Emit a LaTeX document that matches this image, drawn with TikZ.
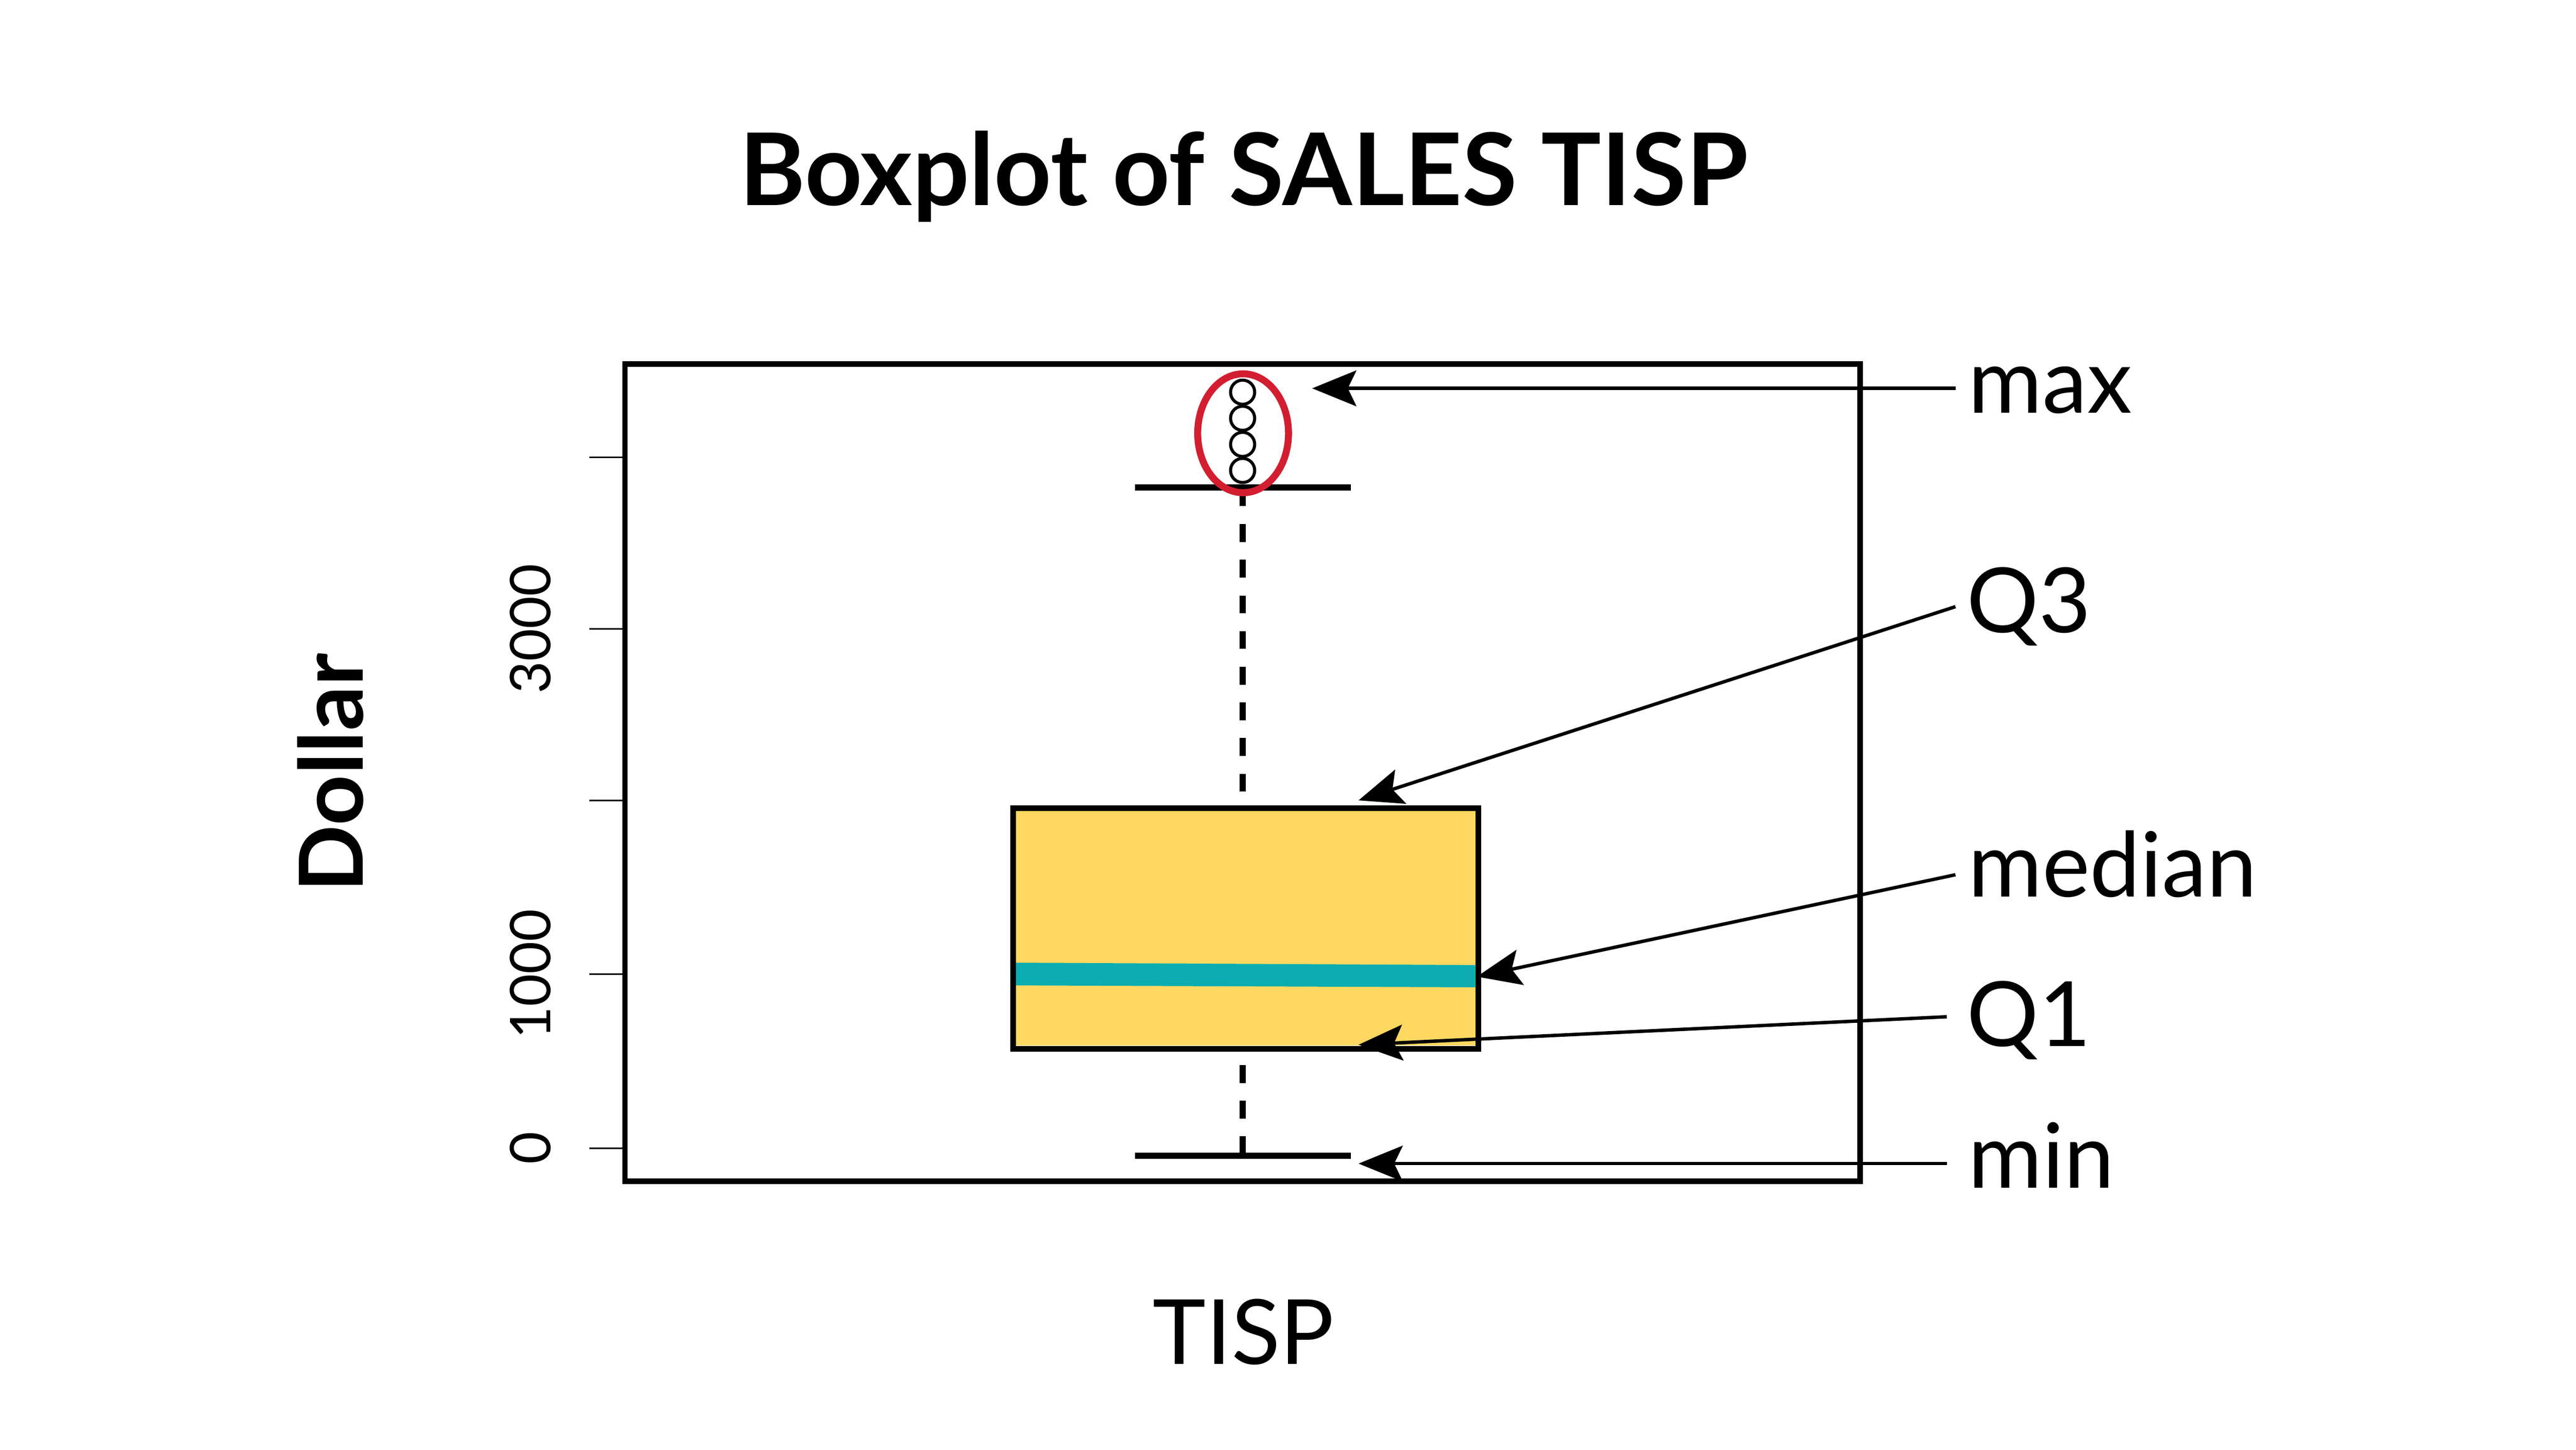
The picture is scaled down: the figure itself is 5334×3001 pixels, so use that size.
\documentclass[tikz,border=0pt]{standalone}
\usepackage{fontspec}
\setmainfont{Lato}
\usetikzlibrary{arrows.meta}
\definecolor{boxyellow}{RGB}{254,216,96}
\definecolor{medteal}{RGB}{11,173,176}
\definecolor{outred}{RGB}{210,30,48}
\tikzset{
  frame/.style={line width=3.3pt},
  tickline/.style={line width=1pt},
  ticklab/.style={rotate=90, inner sep=0pt, font=\fontsize{33}{38}\selectfont},
  whisk/.style={line width=3.7pt},
  dashwhisk/.style={line width=3.6pt, dash pattern=on 10.5pt off 10.5pt, dash phase=13pt},
  outpt/.style={line width=1.8pt},
  callout/.style={line width=2pt, -{Stealth[length=26pt, width=21pt, inset=5pt]}},
  lab/.style={inner sep=0pt, anchor=base west, font=\fontsize{53}{60}\selectfont},
}
\begin{document}
\begin{tikzpicture}[x=0.01cm, y=-0.01cm]
\useasboundingbox (0,0) rectangle (5334,3001);
% title
\node[inner sep=0pt, anchor=base, font=\fontsize{59}{68}\selectfont\bfseries] (title) at (2575,425) {Boxplot of SALES TISP};
% box with median
\fill[boxyellow] (2092,1667) rectangle (3055,2165);
\fill[medteal] (2092,1993) -- (3055,1998) -- (3055,2044) -- (2092,2040) -- cycle;
\node[draw, frame, minimum width=9.63cm, minimum height=4.98cm, inner sep=0pt, anchor=north west] (iqr) at (2092,1667) {};
% whiskers
\coordinate (wtop) at (2573,1009);
\coordinate (wbot) at (2573,2393);
\draw[dashwhisk] (iqr.north -| wtop) -- (wtop);
\draw[dashwhisk] (iqr.south -| wbot) -- (wbot);
\draw[whisk] (2350,1009) -- (2797,1009);
\draw[whisk] (2350,2393) -- (2797,2393);
% outliers
\foreach \yy in {974,920,866,812}{
  \draw[outpt] (2573,\yy) circle[radius=0.25cm];
}
\draw[outred, line width=4.1pt] (2574,897) ellipse[x radius=0.94cm, y radius=1.23cm];
% plot frame
\draw[frame] (1294,754) rectangle (3852,2446);
% y ticks
\foreach \yy in {947,1302,1657,2017,2377}{
  \draw[tickline] (1220,\yy) -- (1294,\yy);
}
\node[ticklab] (t0) at (1098,2377) {0};
\node[ticklab] (t1) at (1098,2017) {1000};
\node[ticklab] (t3) at (1098,1302) {3000};
% axis labels
\node[rotate=90, inner sep=0pt, anchor=base, font=\fontsize{52}{60}\selectfont\bfseries] (ylab) at (752,1600) {Dollar};
\node[inner sep=0pt, anchor=base, font=\fontsize{53}{60}\selectfont] (xlab) at (2575,2824) {TISP};
% callout labels
\node[lab] (lmax) at (4075,855) {max};
\node[lab] (lq3) at (4072,1310) {Q3};
\node[lab] (lmed) at (4075,1857) {median};
\node[lab] (lq1) at (4072,2166) {Q1};
\node[lab] (lmin) at (4075,2460) {min};
% arrow ends
\coordinate (smax) at (4049,804);
\coordinate (emax) at (2717,804);
\coordinate (sq3) at (4049,1256);
\coordinate (eq3) at (2813,1657);
\coordinate (smed) at (4049,1811);
\coordinate (emed) at (3058,2022);
\coordinate (sq1) at (4031,2105);
\coordinate (eq1) at (2813,2163);
\coordinate (smin) at (4031,2409);
\coordinate (emin) at (2813,2409);
\draw[callout] (smax) -- (emax);
\draw[callout] (sq3) -- (eq3);
\draw[callout] (smed) -- (emed);
\draw[callout] (sq1) -- (eq1);
\draw[callout] (smin) -- (emin);
\end{tikzpicture}
\end{document}
